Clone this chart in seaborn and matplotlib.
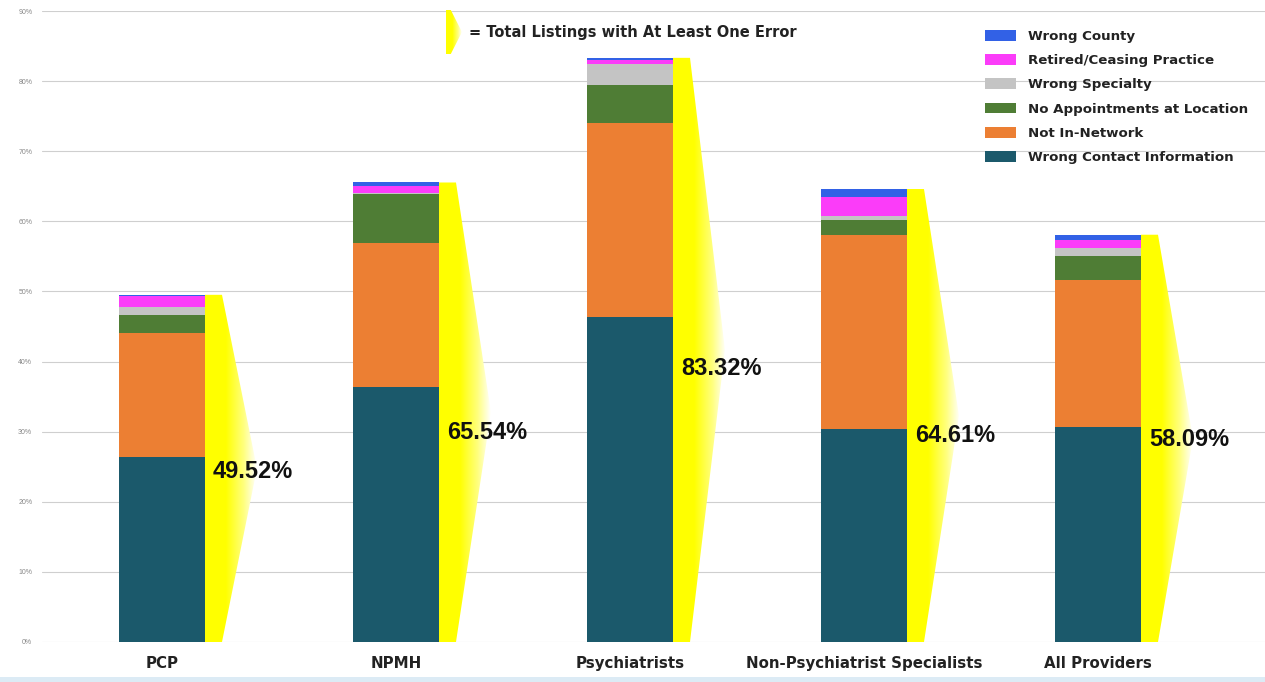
import numpy as np
import pandas as pd
import matplotlib
matplotlib.use("Agg")
import matplotlib.pyplot as plt
import seaborn as sns
from matplotlib.patches import Patch, Polygon
from matplotlib.colors import LinearSegmentedColormap

# ---- data ----
categories = ["PCP", "NPMH", "Psychiatrists", "Non-Psychiatrist Specialists", "All Providers"]
wrong_contact = [26.4, 36.4, 46.4, 30.4, 30.6]
not_in_network = [17.7, 20.6, 27.6, 27.7, 21.0]
no_appointments = [2.6, 7.0, 5.4, 2.1, 3.5]
wrong_specialty = [1.1, 0.2, 3.0, 0.6, 1.1]
retired_ceasing = [1.5, 0.9, 0.6, 2.6, 1.2]
wrong_county = [0.22, 0.54, 0.32, 1.21, 0.69]
totals = [49.52, 65.54, 83.32, 64.61, 58.09]
total_labels = ["49.52%", "65.54%", "83.32%", "64.61%", "58.09%"]
y_ticks = [0, 10, 20, 30, 40, 50, 60, 70, 80, 90]

series_names = ["Wrong Contact Information", "Not In-Network", "No Appointments at Location",
                "Wrong Specialty", "Retired/Ceasing Practice", "Wrong County"]
series_values = [wrong_contact, not_in_network, no_appointments,
                 wrong_specialty, retired_ceasing, wrong_county]
colors = ["#1b596b", "#ec7f33", "#4f7d35", "#c4c4c4", "#fb3cf9", "#3261e6"]

# label vertical positions (layout only)
label_y = [24.3, 29.9, 39.0, 29.4, 28.9]

# ---- figure ----
sns.set_theme(style="white")
plt.rcParams["font.family"] = ["Liberation Sans", "DejaVu Sans"]

fig = plt.figure(figsize=(12.65, 6.82), dpi=100)
ax = fig.add_axes([42 / 1265, 40 / 682, 1 - 42 / 1265, 631 / 682])

# long-form data with cumulative heights (stack drawn top-down)
rows = []
cum = np.zeros(len(categories))
cums = []
for name, vals in zip(series_names, series_values):
    cum = cum + np.array(vals)
    cums.append(cum.copy())
scale = np.array(totals) / cums[-1]
cums = [c * scale for c in cums]
for name, c in zip(series_names, cums):
    for cat, v in zip(categories, c):
        rows.append({"category": cat, "series": name, "cum": v})
df = pd.DataFrame(rows)

bar_w = 86 / 234
for name, col in reversed(list(zip(series_names, colors))):
    sub = df[df["series"] == name]
    sns.barplot(data=sub, x="category", y="cum", color=col, width=bar_w,
                order=categories, ax=ax, saturation=1, linewidth=0, zorder=3)

# yellow gradient "totals" shapes
cmap = LinearSegmentedColormap.from_list(
    "yw", [(0, "#ffff00"), (0.4, "#ffff00"), (0.75, "#ffff80"), (1.0, "#ffffff")])
grad = np.linspace(0, 1, 256)[None, :]
for i, tot in enumerate(totals):
    xr = i + bar_w / 2
    top_w = 17 / 234
    mid_w = 52 / 234
    poly = Polygon([(xr, 0), (xr + top_w, 0), (xr + mid_w, tot / 2), (xr + top_w, tot),
                    (xr, tot)], closed=True, facecolor="none", edgecolor="none",
                   transform=ax.transData)
    ax.add_patch(poly)
    im = ax.imshow(grad, cmap=cmap, aspect="auto", extent=[xr, xr + mid_w, 0, tot],
                   zorder=2.5, interpolation="bilinear")
    im.set_clip_path(poly)
    ax.text(xr + 8 / 234, label_y[i], total_labels[i], fontsize=17, fontweight="bold",
            color="#111111", va="center", ha="left", zorder=5)

ax.set_xlim(-120 / 234, -120 / 234 + 1223 / 234)
ax.set_ylim(0, 90)
ax.set_yticks(y_ticks)
ax.set_yticklabels([f"{t}%" for t in y_ticks], fontsize=5, color="#888888")
ax.yaxis.grid(True, color="#cfcfcf", linewidth=0.8, zorder=0)
ax.set_axisbelow(True)
ax.tick_params(axis="y", length=0, pad=7)
ax.tick_params(axis="x", length=0, pad=10)
for lab in ax.get_xticklabels():
    lab.set_fontweight("bold")
    lab.set_fontsize(10.8)
    lab.set_family("DejaVu Sans")
    lab.set_color("#222222")
ax.set_xlabel("")
ax.set_ylabel("")
for s in ax.spines.values():
    s.set_visible(False)

# legend (top to bottom: Wrong County ... Wrong Contact Information)
handles = [Patch(facecolor=c, edgecolor="none", label=n)
           for n, c in reversed(list(zip(series_names, colors)))]
leg = fig.legend(handles=handles, loc="upper left", bbox_to_anchor=(985 / 1265, 1 - 30 / 682),
                 frameon=False, prop={"family": "DejaVu Sans", "weight": "bold", "size": 9.6},
                 handlelength=2.35, handleheight=0.85,
                 labelspacing=0.84, handletextpad=0.85, borderaxespad=0, borderpad=0)
for t in leg.get_texts():
    t.set_color("#222222")

# "= Total Listings" note with yellow sliver
note_ax = fig.add_axes([446 / 1265, 1 - 54 / 682, 16 / 1265, 44 / 682])
note_ax.axis("off")
note_ax.imshow(grad, cmap=cmap, aspect="auto", extent=[0, 1, 0, 1])
sl = Polygon([(0, 0), (0.3, 0), (1, 0.5), (0.3, 1), (0, 1)], closed=True,
             facecolor="none", edgecolor="none", transform=note_ax.transData)
note_ax.add_patch(sl)
note_ax.images[0].set_clip_path(sl)
note_ax.set_xlim(0, 1)
note_ax.set_ylim(0, 1)
fig.text(469 / 1265, 1 - 33 / 682, "= Total Listings with At Least One Error", fontsize=10.5,
         fontweight="bold", family="DejaVu Sans", color="#222222", va="center", ha="left")

# light bottom strip
fig.patches.append(matplotlib.patches.Rectangle((0, 0), 1, 5 / 682, transform=fig.transFigure,
                                                facecolor="#dcebf5", edgecolor="none"))

fig.savefig("out.png", dpi=100)
